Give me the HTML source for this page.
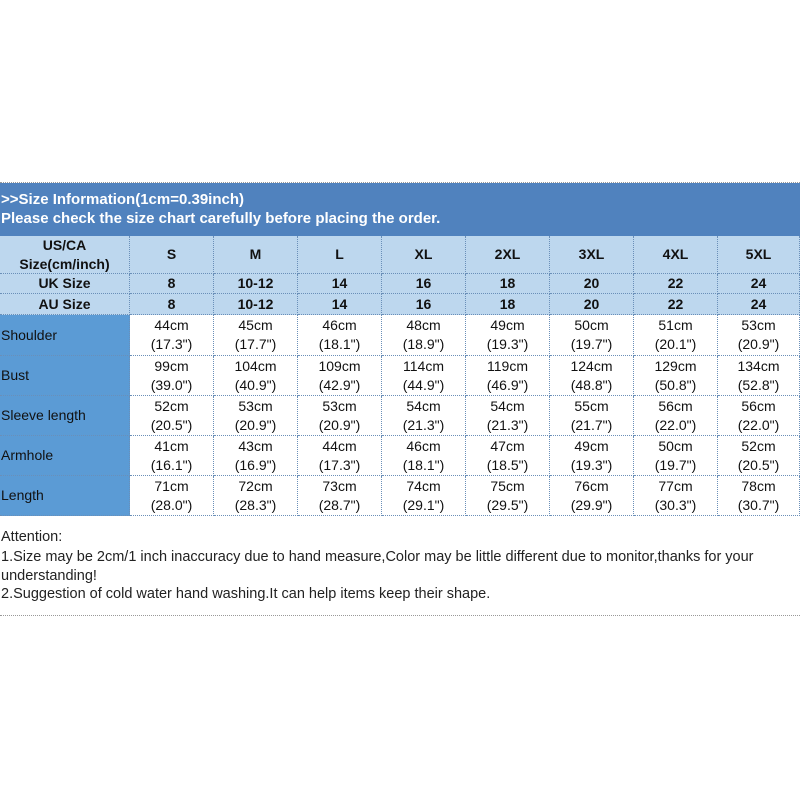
<!DOCTYPE html>
<html><head><style>
body{margin:0;width:800px;height:800px;background:#fff;position:relative;overflow:hidden;font-family:"Liberation Sans",Arial,sans-serif;}
.a{position:absolute;box-sizing:border-box;}
.c{position:absolute;box-sizing:border-box;display:flex;align-items:center;justify-content:center;text-align:center;border-right:1px dotted #6a8fb8;border-bottom:1px dotted #6a8fb8;font-size:14px;line-height:19px;color:#111;}
.h{background:#bdd7ee;font-weight:bold;}
.f{background:#5b9bd5;justify-content:flex-start;padding-left:1px;font-size:14px;}
.t{font-size:14.5px;color:#222;position:absolute;left:1px;}
</style></head><body>
<div class="a" style="left:0;top:182px;width:800px;height:1px;border-top:1px dotted #999"></div>
<div class="a" style="left:0;top:183px;width:800px;height:53px;background:#5082be;color:#fff;font-weight:bold;font-size:15px;padding:7px 0 0 1px;line-height:19px">&gt;&gt;Size Information(1cm=0.39inch)<br>Please check the size chart carefully before placing the order.</div>
<div id="g"></div>
<div class="t" style="top:529px">Attention:</div>
<div class="t" style="top:548px;line-height:19px;width:795px">1.Size may be 2cm/1 inch inaccuracy due to hand measure,Color may be little different due to monitor,thanks for your understanding!</div>
<div class="t" style="top:586px">2.Suggestion of cold water hand washing.It can help items keep their shape.</div>
<div class="a" style="left:0;top:615px;width:800px;height:1px;border-top:1px dotted #999"></div>
<script>
var cols=[0,130,214,298,382,466,550,634,718,800];
var rows=[236,274,294,315,356,396,436,476,516];
var data=[
["US/CA<br>Size(cm/inch)","S","M","L","XL","2XL","3XL","4XL","5XL"],
["UK Size","8","10-12","14","16","18","20","22","24"],
["AU Size","8","10-12","14","16","18","20","22","24"],
["Shoulder","44cm<br>(17.3\")","45cm<br>(17.7\")","46cm<br>(18.1\")","48cm<br>(18.9\")","49cm<br>(19.3\")","50cm<br>(19.7\")","51cm<br>(20.1\")","53cm<br>(20.9\")"],
["Bust","99cm<br>(39.0\")","104cm<br>(40.9\")","109cm<br>(42.9\")","114cm<br>(44.9\")","119cm<br>(46.9\")","124cm<br>(48.8\")","129cm<br>(50.8\")","134cm<br>(52.8\")"],
["Sleeve length","52cm<br>(20.5\")","53cm<br>(20.9\")","53cm<br>(20.9\")","54cm<br>(21.3\")","54cm<br>(21.3\")","55cm<br>(21.7\")","56cm<br>(22.0\")","56cm<br>(22.0\")"],
["Armhole","41cm<br>(16.1\")","43cm<br>(16.9\")","44cm<br>(17.3\")","46cm<br>(18.1\")","47cm<br>(18.5\")","49cm<br>(19.3\")","50cm<br>(19.7\")","52cm<br>(20.5\")"],
["Length","71cm<br>(28.0\")","72cm<br>(28.3\")","73cm<br>(28.7\")","74cm<br>(29.1\")","75cm<br>(29.5\")","76cm<br>(29.9\")","77cm<br>(30.3\")","78cm<br>(30.7\")"]];
var h="";
for(var r=0;r<8;r++)for(var c=0;c<9;c++){
var cls="c"+(r<3?" h":(c==0?" f":""));
h+='<div class="'+cls+'" style="left:'+cols[c]+'px;top:'+rows[r]+'px;width:'+(cols[c+1]-cols[c])+'px;height:'+(rows[r+1]-rows[r])+'px">'+(r>=3&&c==0?'<span>'+data[r][c]+'</span>':data[r][c])+'</div>';}
document.getElementById("g").innerHTML=h;
</script>
</body></html>
